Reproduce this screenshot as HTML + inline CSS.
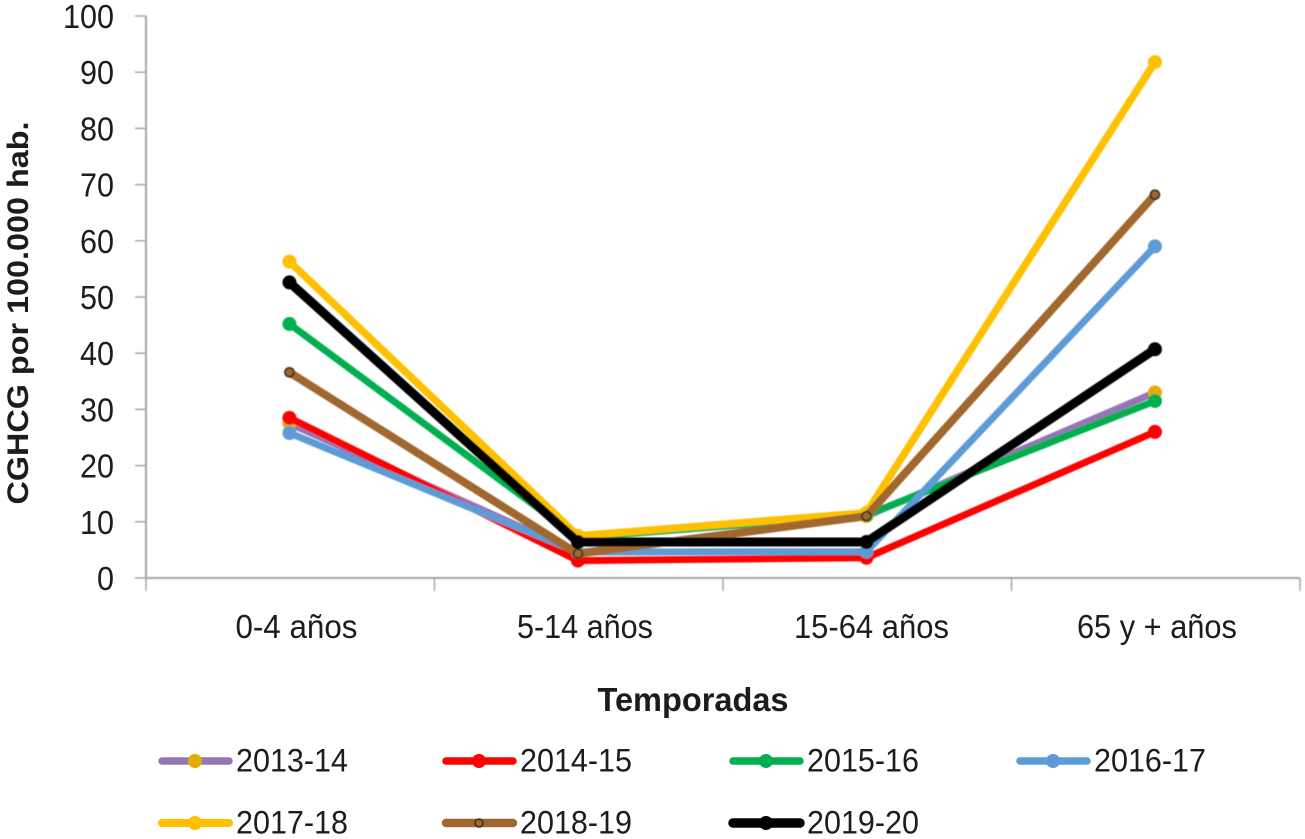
<!DOCTYPE html>
<html lang="es">
<head>
<meta charset="utf-8">
<title>CGHCG por 100.000 hab.</title>
<style>
html,body{margin:0;padding:0;background:#fff;width:1305px;height:839px;overflow:hidden}
svg{display:block}
text{font-family:"Liberation Sans",sans-serif;fill:#1c1c1c}
</style>
</head>
<body>
<svg id="chart" width="1305" height="839" viewBox="0 0 1305 839" xmlns="http://www.w3.org/2000/svg">
<defs>
<filter id="soft" x="-5%" y="-5%" width="110%" height="110%"><feGaussianBlur stdDeviation="0.6"/></filter>
<filter id="softText" x="-5%" y="-5%" width="110%" height="110%"><feGaussianBlur stdDeviation="0.35"/></filter>
</defs>
<g id="axes" filter="url(#soft)"></g>
<g id="series" filter="url(#soft)"></g>
<g id="labels" filter="url(#softText)"></g>
<g id="legend" filter="url(#softText)"></g>
</svg>
<script>
const categories = ['0-4 años', '5-14 años', '15-64 años', '65 y + años'];
const yTicks = [0, 10, 20, 30, 40, 50, 60, 70, 80, 90, 100];
const seasons = ['2013-14', '2014-15', '2015-16', '2016-17', '2017-18', '2018-19', '2019-20'];
const values2013 = [27.5, 4.5, 11, 33];
const values2014 = [28.5, 3.1, 3.6, 26];
const values2015 = [45.2, 7.2, 11.2, 31.5];
const values2016 = [25.8, 4.6, 4.7, 59];
const values2017 = [56.3, 7.5, 11.6, 91.8];
const values2018 = [36.6, 4.3, 11, 68.2];
const values2019 = [52.6, 6.4, 6.4, 40.7];
const seriesValues = [values2013, values2014, values2015, values2016, values2017, values2018, values2019];

const NS = 'http://www.w3.org/2000/svg';
const lineColors = ['#9576b5', '#ff0000', '#00b050', '#5b9bd5', '#ffc000', '#a0682f', '#000000'];
const markerColors = ['#e5ac00', '#ff0000', '#00b050', '#5b9bd5', '#ffc000', '#a0682f', '#000000'];
const lineWidths = [7, 7, 7, 7, 7.5, 8, 9];
const X0 = 146, X1 = 1300, Y0 = 578, Y100 = 16;
const band = (X1 - X0) / categories.length;
const xScale = i => X0 + band * (i + 0.5) - 0.8;
const yScale = v => Y0 - (v / 100) * (Y0 - Y100);
function mk(tag, attrs, parent, txt) {
  const e = document.createElementNS(NS, tag);
  for (const k in attrs) e.setAttribute(k, attrs[k]);
  if (txt !== undefined) e.textContent = txt;
  parent.appendChild(e);
  return e;
}
const axes = document.getElementById('axes');
const seriesG = document.getElementById('series');
const labels = document.getElementById('labels');
const legend = document.getElementById('legend');

const yAxis = mk('line', {x1: X0, x2: X0, y1: Y100, y2: Y0, stroke: '#a6a6a6', 'stroke-width': 2}, axes);


const xAxis = mk('line', {x1: X0, x2: X1, y1: Y0, y2: Y0, stroke: '#a6a6a6', 'stroke-width': 2}, axes);



yTicks.forEach(t => {
  const y = yScale(t);
  const tick = mk('line', {x1: X0 - 11, x2: X0, y1: y, y2: y, stroke: '#a6a6a6', 'stroke-width': 1.5}, axes);
  
  
  const s = String(t);
  const w = s.length * 17;
  const lab = mk('text', {x: 114, y: y + 12, 'text-anchor': 'end', 'font-size': 33, textLength: w, lengthAdjust: 'spacingAndGlyphs'}, labels, s);
  
  
});
for (let i = 0; i <= categories.length; i++) {
  const x = X0 + band * i;
  const tick = mk('line', {x1: x, x2: x, y1: Y0, y2: Y0 + 13, stroke: '#a6a6a6', 'stroke-width': 1.5}, axes);
  
  
}
const catWidths = [122, 136, 155, 160];
const catOffsets = [7, 7, 5, 2];
categories.forEach((c, i) => {
  const lab = mk('text', {x: xScale(i) + catOffsets[i], y: 638, 'text-anchor': 'middle', 'font-size': 33, textLength: catWidths[i], lengthAdjust: 'spacingAndGlyphs'}, labels, c);
  
  
});
const yTitle = mk('text', {transform: 'translate(28,313) rotate(-90)', 'text-anchor': 'middle', 'font-size': 30, 'font-weight': 'bold', textLength: 383, lengthAdjust: 'spacingAndGlyphs'}, labels, 'CGHCG por 100.000 hab.');


const xTitle = mk('text', {x: 693, y: 711, 'text-anchor': 'middle', 'font-size': 33, 'font-weight': 'bold', textLength: 191, lengthAdjust: 'spacingAndGlyphs'}, labels, 'Temporadas');



seriesValues.forEach((vals, s) => {
  const g = mk('g', {}, seriesG);
  
  
  const pts = vals.map((v, i) => xScale(i) + ',' + yScale(v)).join(' ');
  const line = mk('polyline', {points: pts, fill: 'none', stroke: lineColors[s], 'stroke-width': lineWidths[s], 'stroke-linejoin': 'round'}, g);
  
  
  vals.forEach((v, i) => {
    const hollow = s === 5;
    const p = mk('circle', {cx: xScale(i), cy: yScale(v), r: hollow ? 4.5 : 7, fill: markerColors[s], stroke: hollow ? '#3a3020' : 'none', 'stroke-width': hollow ? 1.7 : 0}, g);
    
    
  });
});

const legendCols = [159, 443, 730, 1017];
const legendRows = [761, 823];
seasons.forEach((name, s) => {
  const col = legendCols[s % 4];
  const row = legendRows[Math.floor(s / 4)];
  const g = mk('g', {}, legend);
  
  
  mk('line', {x1: col + 3, x2: col + 70, y1: row, y2: row, stroke: lineColors[s], 'stroke-width': lineWidths[s] + 0.5, 'stroke-linecap': 'round'}, g);
  const hollow = s === 5;
  mk('circle', {cx: col + 36, cy: row, r: hollow ? 4 : 7, fill: markerColors[s], stroke: hollow ? '#3a3020' : 'none', 'stroke-width': hollow ? 1.6 : 0}, g);
  mk('text', {x: col + 77, y: row + 10.5, 'font-size': 32, textLength: 112, lengthAdjust: 'spacingAndGlyphs'}, g, name);
});
</script>
</body>
</html>
